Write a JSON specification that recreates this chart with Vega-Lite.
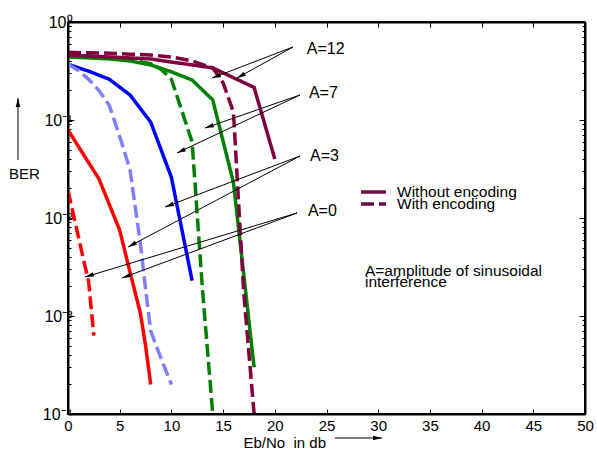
{
  "$schema": "https://vega.github.io/schema/vega-lite/v6.json",
  "width": 517,
  "height": 392,
  "autosize": "none",
  "padding": {"left": 68, "top": 22, "right": 12, "bottom": 35},
  "background": "white",
  "config": {
    "view": {"stroke": "black", "strokeWidth": 1.5},
    "font": "Liberation Sans",
    "axis": {"domain": true, "labelColor": "black", "tickColor": "black", "domainColor": "black", "titleColor": "black", "tickWidth": 1, "domainWidth": 2, "grid": false, "labelFont": "Liberation Sans", "titleFont": "Liberation Sans"}
  },
  "datasets": {
    "frame": [
      {"x": 0, "x2": 50, "y": 0.0001, "y2": 0.0001},
      {"x": 0, "x2": 50, "y": 1, "y2": 1},
      {"x": 0, "x2": 0, "y": 0.0001, "y2": 1},
      {"x": 50, "x2": 50, "y": 0.0001, "y2": 1}
    ],
    "curves": [
      {"series": "A=0 without", "coding": "Without encoding", "ebno": 0, "ber": 0.079},
      {"series": "A=0 without", "coding": "Without encoding", "ebno": 3, "ber": 0.025},
      {"series": "A=0 without", "coding": "Without encoding", "ebno": 5, "ber": 0.0075},
      {"series": "A=0 without", "coding": "Without encoding", "ebno": 6, "ber": 0.0028},
      {"series": "A=0 without", "coding": "Without encoding", "ebno": 7, "ber": 0.00107},
      {"series": "A=0 without", "coding": "Without encoding", "ebno": 7.5, "ber": 0.0005},
      {"series": "A=0 without", "coding": "Without encoding", "ebno": 8, "ber": 0.0002},
      {"series": "A=0 with", "coding": "With encoding", "ebno": 0, "ber": 0.019},
      {"series": "A=0 with", "coding": "With encoding", "ebno": 2, "ber": 0.0022},
      {"series": "A=0 with", "coding": "With encoding", "ebno": 2.5, "ber": 0.00063},
      {"series": "A=3 without", "coding": "Without encoding", "ebno": 0, "ber": 0.37},
      {"series": "A=3 without", "coding": "Without encoding", "ebno": 2, "ber": 0.315},
      {"series": "A=3 without", "coding": "Without encoding", "ebno": 4, "ber": 0.26},
      {"series": "A=3 without", "coding": "Without encoding", "ebno": 6, "ber": 0.18},
      {"series": "A=3 without", "coding": "Without encoding", "ebno": 8, "ber": 0.095},
      {"series": "A=3 without", "coding": "Without encoding", "ebno": 10, "ber": 0.026},
      {"series": "A=3 without", "coding": "Without encoding", "ebno": 12, "ber": 0.0023},
      {"series": "A=3 with", "coding": "With encoding", "ebno": 0, "ber": 0.37},
      {"series": "A=3 with", "coding": "With encoding", "ebno": 1, "ber": 0.32},
      {"series": "A=3 with", "coding": "With encoding", "ebno": 2, "ber": 0.26},
      {"series": "A=3 with", "coding": "With encoding", "ebno": 3, "ber": 0.2},
      {"series": "A=3 with", "coding": "With encoding", "ebno": 4, "ber": 0.14},
      {"series": "A=3 with", "coding": "With encoding", "ebno": 5, "ber": 0.068},
      {"series": "A=3 with", "coding": "With encoding", "ebno": 6, "ber": 0.031},
      {"series": "A=3 with", "coding": "With encoding", "ebno": 7, "ber": 0.0055},
      {"series": "A=3 with", "coding": "With encoding", "ebno": 7.5, "ber": 0.0019},
      {"series": "A=3 with", "coding": "With encoding", "ebno": 8, "ber": 0.0007},
      {"series": "A=3 with", "coding": "With encoding", "ebno": 9, "ber": 0.00037},
      {"series": "A=3 with", "coding": "With encoding", "ebno": 10, "ber": 0.0002},
      {"series": "A=7 without", "coding": "Without encoding", "ebno": 0, "ber": 0.44},
      {"series": "A=7 without", "coding": "Without encoding", "ebno": 2, "ber": 0.43},
      {"series": "A=7 without", "coding": "Without encoding", "ebno": 4, "ber": 0.42},
      {"series": "A=7 without", "coding": "Without encoding", "ebno": 6, "ber": 0.40},
      {"series": "A=7 without", "coding": "Without encoding", "ebno": 8, "ber": 0.365},
      {"series": "A=7 without", "coding": "Without encoding", "ebno": 10, "ber": 0.31},
      {"series": "A=7 without", "coding": "Without encoding", "ebno": 12, "ber": 0.256},
      {"series": "A=7 without", "coding": "Without encoding", "ebno": 14, "ber": 0.16},
      {"series": "A=7 without", "coding": "Without encoding", "ebno": 16, "ber": 0.023},
      {"series": "A=7 without", "coding": "Without encoding", "ebno": 18, "ber": 0.0003},
      {"series": "A=7 with", "coding": "With encoding", "ebno": 0, "ber": 0.46},
      {"series": "A=7 with", "coding": "With encoding", "ebno": 2, "ber": 0.45},
      {"series": "A=7 with", "coding": "With encoding", "ebno": 4, "ber": 0.43},
      {"series": "A=7 with", "coding": "With encoding", "ebno": 6, "ber": 0.41},
      {"series": "A=7 with", "coding": "With encoding", "ebno": 8, "ber": 0.375},
      {"series": "A=7 with", "coding": "With encoding", "ebno": 9, "ber": 0.33},
      {"series": "A=7 with", "coding": "With encoding", "ebno": 10, "ber": 0.26},
      {"series": "A=7 with", "coding": "With encoding", "ebno": 11, "ber": 0.125},
      {"series": "A=7 with", "coding": "With encoding", "ebno": 12, "ber": 0.06},
      {"series": "A=7 with", "coding": "With encoding", "ebno": 13, "ber": 0.0019},
      {"series": "A=7 with", "coding": "With encoding", "ebno": 14, "ber": 0.0001},
      {"series": "A=12 without", "coding": "Without encoding", "ebno": 0, "ber": 0.46},
      {"series": "A=12 without", "coding": "Without encoding", "ebno": 2, "ber": 0.45},
      {"series": "A=12 without", "coding": "Without encoding", "ebno": 4, "ber": 0.44},
      {"series": "A=12 without", "coding": "Without encoding", "ebno": 6, "ber": 0.43},
      {"series": "A=12 without", "coding": "Without encoding", "ebno": 8, "ber": 0.42},
      {"series": "A=12 without", "coding": "Without encoding", "ebno": 10, "ber": 0.39},
      {"series": "A=12 without", "coding": "Without encoding", "ebno": 12, "ber": 0.365},
      {"series": "A=12 without", "coding": "Without encoding", "ebno": 14, "ber": 0.34},
      {"series": "A=12 without", "coding": "Without encoding", "ebno": 16, "ber": 0.27},
      {"series": "A=12 without", "coding": "Without encoding", "ebno": 18, "ber": 0.215},
      {"series": "A=12 without", "coding": "Without encoding", "ebno": 20, "ber": 0.04},
      {"series": "A=12 with", "coding": "With encoding", "ebno": 0, "ber": 0.49},
      {"series": "A=12 with", "coding": "With encoding", "ebno": 2, "ber": 0.485},
      {"series": "A=12 with", "coding": "With encoding", "ebno": 4, "ber": 0.48},
      {"series": "A=12 with", "coding": "With encoding", "ebno": 6, "ber": 0.47},
      {"series": "A=12 with", "coding": "With encoding", "ebno": 8, "ber": 0.46},
      {"series": "A=12 with", "coding": "With encoding", "ebno": 10, "ber": 0.44},
      {"series": "A=12 with", "coding": "With encoding", "ebno": 12, "ber": 0.40},
      {"series": "A=12 with", "coding": "With encoding", "ebno": 14, "ber": 0.34},
      {"series": "A=12 with", "coding": "With encoding", "ebno": 15, "ber": 0.24},
      {"series": "A=12 with", "coding": "With encoding", "ebno": 16, "ber": 0.12},
      {"series": "A=12 with", "coding": "With encoding", "ebno": 17, "ber": 0.0017},
      {"series": "A=12 with", "coding": "With encoding", "ebno": 18, "ber": 0.0001}
    ],
    "arrows": [
      {"x": 21.76, "y": 0.556, "x2": 16.34, "y2": 0.268, "angle": 241},
      {"x": 21.76, "y": 0.556, "x2": 13.93, "y2": 0.268, "angle": 249},
      {"x": 22.44, "y": 0.18, "x2": 13.25, "y2": 0.0828, "angle": 251},
      {"x": 22.44, "y": 0.18, "x2": 10.54, "y2": 0.0461, "angle": 245},
      {"x": 22.44, "y": 0.0429, "x2": 9.38, "y2": 0.01295, "angle": 249},
      {"x": 22.44, "y": 0.0429, "x2": 5.8, "y2": 0.00506, "angle": 242},
      {"x": 22.15, "y": 0.01125, "x2": 1.64, "y2": 0.0025, "angle": 253},
      {"x": 22.15, "y": 0.01125, "x2": 5.22, "y2": 0.00244, "angle": 250},
      {"x": -4.84, "y": 0.0391, "x2": -4.84, "y2": 0.1676, "angle": 0},
      {"x": 25.82, "y": 0.0000569, "x2": 30.37, "y2": 0.0000569, "angle": 90}
    ],
    "labels": [
      {"text": "A=12", "x": 23.1, "y": 0.53},
      {"text": "A=7", "x": 23.3, "y": 0.189},
      {"text": "A=3", "x": 23.4, "y": 0.0429},
      {"text": "A=0", "x": 23.2, "y": 0.0118}
    ],
    "legend": [
      {"coding": "Without encoding", "x": 28.34, "x2": 30.75, "tx": 31.82, "y": 0.0184},
      {"coding": "With encoding", "x": 28.34, "x2": 30.75, "tx": 31.82, "y": 0.0139}
    ],
    "notes": [
      {"text": "A=amplitude of sinusoidal", "x": 28.72, "y": 0.00256},
      {"text": "interference", "x": 28.72, "y": 0.00198}
    ]
  },
  "layer": [
    {
      "data": {"name": "curves"},
      "mark": {"type": "line", "strokeWidth": 3.5, "clip": true},
      "encoding": {
        "x": {"field": "ebno", "type": "quantitative", "scale": {"domain": [0, 50], "nice": false, "zero": false},
          "axis": {"orient": "bottom", "domain": true, "domainColor": "#000000", "domainWidth": 2, "domainOpacity": 1, "values": [0, 5, 10, 15, 20, 25, 30, 35, 40, 45, 50], "tickSize": -5, "labelFontSize": 15, "labelPadding": 9, "labelFlush": false, "labelOverlap": false,
            "title": "Eb/No\u00a0\u00a0in db", "titleFontSize": 15, "titleFontWeight": "normal", "titleX": 175, "titleY": 33, "titleAlign": "left", "titleBaseline": "alphabetic"}},
        "y": {"field": "ber", "type": "quantitative", "scale": {"type": "log", "domain": [0.0001, 1], "nice": false},
          "axis": {"orient": "left", "domain": true, "domainColor": "#000000", "domainWidth": 2, "domainOpacity": 1,
            "values": [0.0001, 0.0002, 0.0003, 0.0004, 0.0005, 0.0006, 0.0007, 0.0008, 0.0009, 0.001, 0.002, 0.003, 0.004, 0.005, 0.006, 0.007, 0.008, 0.009, 0.01, 0.02, 0.03, 0.04, 0.05, 0.06, 0.07, 0.08, 0.09, 0.1, 0.2, 0.3, 0.4, 0.5, 0.6, 0.7, 0.8, 0.9, 1],
            "tickSize": {"condition": {"test": "datum.value==1||datum.value==0.1||datum.value==0.01||datum.value==0.001||datum.value==0.0001", "value": -6}, "value": -3},
            "labelExpr": "datum.value==1?'10⁰':datum.value==0.1?'10⁻¹':datum.value==0.01?'10⁻²':datum.value==0.001?'10⁻³':datum.value==0.0001?'10⁻⁴':''",
            "labelFontSize": 16, "labelPadding": 2, "labelOverlap": false,
            "title": "BER", "titleAngle": 0, "titleX": -44, "titleY": 156, "titleAlign": "center", "titleBaseline": "alphabetic", "titleFontSize": 15, "titleFontWeight": "normal"}},
        "color": {"field": "series", "type": "nominal",
          "scale": {"domain": ["A=0 without", "A=0 with", "A=3 without", "A=3 with", "A=7 without", "A=7 with", "A=12 without", "A=12 with"],
            "range": ["#ff0000", "#ff0000", "#0000ff", "#8080ff", "#008000", "#008000", "#800040", "#800040"]}, "legend": null},
        "strokeDash": {"field": "coding", "type": "nominal",
          "scale": {"domain": ["Without encoding", "With encoding"], "range": [[1, 0], [13, 5]]}, "legend": null}
      }
    },
    {
      "data": {"name": "arrows"},
      "mark": {"type": "rule", "color": "black", "strokeWidth": 1, "clip": false},
      "encoding": {
        "x": {"field": "x", "type": "quantitative", "scale": {"domain": [0, 50], "nice": false, "zero": false},
          "axis": {"orient": "top", "domain": true, "domainColor": "#000000", "domainWidth": 2, "values": [0, 5, 10, 15, 20, 25, 30, 35, 40, 45, 50], "tickSize": -5, "labels": false, "title": null}},
        "y": {"field": "y", "type": "quantitative", "scale": {"type": "log", "domain": [0.0001, 1], "nice": false},
          "axis": {"orient": "right", "domain": true, "domainColor": "#000000", "domainWidth": 2,
            "values": [0.0001, 0.0002, 0.0003, 0.0004, 0.0005, 0.0006, 0.0007, 0.0008, 0.0009, 0.001, 0.002, 0.003, 0.004, 0.005, 0.006, 0.007, 0.008, 0.009, 0.01, 0.02, 0.03, 0.04, 0.05, 0.06, 0.07, 0.08, 0.09, 0.1, 0.2, 0.3, 0.4, 0.5, 0.6, 0.7, 0.8, 0.9, 1],
            "tickSize": {"condition": {"test": "datum.value==1||datum.value==0.1||datum.value==0.01||datum.value==0.001||datum.value==0.0001", "value": -6}, "value": -3},
            "labels": false, "title": null}},
        "x2": {"field": "x2"},
        "y2": {"field": "y2"}
      }
    },
    {
      "data": {"name": "frame"},
      "mark": {"type": "rule", "color": "#000000", "strokeWidth": 2, "clip": false},
      "encoding": {
        "x": {"field": "x", "type": "quantitative", "scale": {"domain": [0, 50], "nice": false, "zero": false}, "axis": null},
        "x2": {"field": "x2"},
        "y": {"field": "y", "type": "quantitative", "scale": {"type": "log", "domain": [0.0001, 1], "nice": false}, "axis": null},
        "y2": {"field": "y2"}
      }
    },
    {
      "data": {"name": "arrows"},
      "mark": {"type": "point", "shape": "M0,0L-0.5,2L0.5,2Z", "filled": true, "color": "black", "opacity": 1, "size": 80, "strokeWidth": 0, "clip": false},
      "encoding": {
        "x": {"field": "x2", "type": "quantitative", "scale": {"domain": [0, 50], "nice": false, "zero": false}, "axis": null},
        "y": {"field": "y2", "type": "quantitative", "scale": {"type": "log", "domain": [0.0001, 1], "nice": false}, "axis": null},
        "angle": {"field": "angle", "type": "quantitative", "scale": null}
      }
    },
    {
      "data": {"name": "labels"},
      "mark": {"type": "text", "align": "left", "baseline": "middle", "fontSize": 16, "font": "Liberation Sans", "color": "black"},
      "encoding": {
        "x": {"field": "x", "type": "quantitative", "scale": {"domain": [0, 50], "nice": false, "zero": false}, "axis": null},
        "y": {"field": "y", "type": "quantitative", "scale": {"type": "log", "domain": [0.0001, 1], "nice": false}, "axis": null},
        "text": {"field": "text"}
      }
    },
    {
      "data": {"name": "legend"},
      "mark": {"type": "rule", "color": "#6a0a48", "strokeWidth": 3.5},
      "encoding": {
        "x": {"field": "x", "type": "quantitative", "scale": {"domain": [0, 50], "nice": false, "zero": false}, "axis": null},
        "x2": {"field": "x2"},
        "y": {"field": "y", "type": "quantitative", "scale": {"type": "log", "domain": [0.0001, 1], "nice": false}, "axis": null},
        "strokeDash": {"field": "coding", "type": "nominal", "scale": {"domain": ["Without encoding", "With encoding"], "range": [[1, 0], [13, 5]]}, "legend": null}
      }
    },
    {
      "data": {"name": "legend"},
      "mark": {"type": "text", "align": "left", "baseline": "middle", "fontSize": 15.5, "font": "Liberation Sans", "color": "black"},
      "encoding": {
        "x": {"field": "tx", "type": "quantitative", "scale": {"domain": [0, 50], "nice": false, "zero": false}, "axis": null},
        "y": {"field": "y", "type": "quantitative", "scale": {"type": "log", "domain": [0.0001, 1], "nice": false}, "axis": null},
        "text": {"field": "coding"}
      }
    },
    {
      "data": {"name": "notes"},
      "mark": {"type": "text", "align": "left", "baseline": "alphabetic", "fontSize": 15.5, "font": "Liberation Sans", "color": "black"},
      "encoding": {
        "x": {"field": "x", "type": "quantitative", "scale": {"domain": [0, 50], "nice": false, "zero": false}, "axis": null},
        "y": {"field": "y", "type": "quantitative", "scale": {"type": "log", "domain": [0.0001, 1], "nice": false}, "axis": null},
        "text": {"field": "text"}
      }
    }
  ],
  "resolve": {"axis": {"x": "independent", "y": "independent"}}
}
